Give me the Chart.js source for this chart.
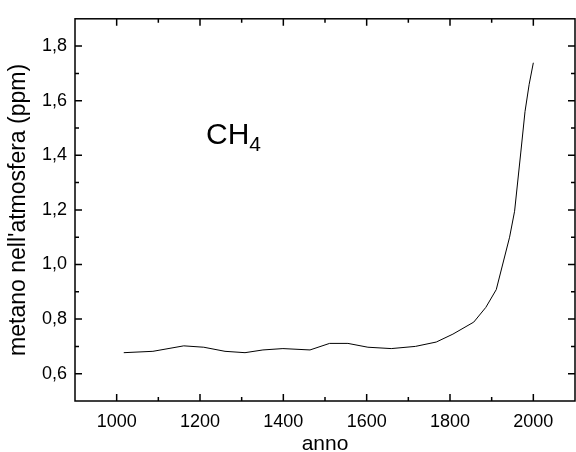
<!DOCTYPE html>
<html>
<head>
<meta charset="utf-8">
<script src="https://cdn.jsdelivr.net/npm/chart.js@4"></script>
<style>
  html, body { margin: 0; padding: 0; background: #fff; }
  #wrap { width: 576px; height: 452px; }
</style>
</head>
<body>
<div id="wrap"><canvas id="chart" width="576" height="452"></canvas></div>
<script>
// dati
const anni = [1017, 1087, 1161, 1209, 1260, 1308, 1351, 1399, 1464, 1511, 1555, 1603,
              1659, 1717, 1767, 1807, 1857, 1886, 1911, 1943, 1955, 1970, 1980, 1990, 2000];
const metano = [0.677, 0.682, 0.702, 0.697, 0.682, 0.677, 0.687, 0.692, 0.687, 0.711, 0.711, 0.697,
                0.692, 0.700, 0.716, 0.745, 0.789, 0.843, 0.908, 1.100, 1.195, 1.412, 1.560, 1.660, 1.739];
const xTicks = [1000, 1200, 1400, 1600, 1800, 2000];
const xMinor = [1100, 1300, 1500, 1700, 1900];
const yTicks = [0.6, 0.8, 1.0, 1.2, 1.4, 1.6, 1.8];
const yMinor = [0.7, 0.9, 1.1, 1.3, 1.5, 1.7];

const FONT = "'Liberation Sans', Arial, sans-serif";

// cornice e tacche interne su tutti i lati
const cornice = {
    id: 'cornice',
    afterDraw(chart) {
        const { ctx, chartArea: a, scales } = chart;
        const sx = scales.x, sy = scales.y;
        ctx.save();
        ctx.strokeStyle = '#000';
        ctx.lineWidth = 1.5;
        ctx.strokeRect(a.left, a.top, a.right - a.left, a.bottom - a.top);
        ctx.beginPath();
        const tx = (v, len) => {
            const p = sx.getPixelForValue(v);
            ctx.moveTo(p, a.bottom); ctx.lineTo(p, a.bottom - len);
            ctx.moveTo(p, a.top); ctx.lineTo(p, a.top + len);
        };
        const ty = (v, len) => {
            const p = sy.getPixelForValue(v);
            ctx.moveTo(a.left, p); ctx.lineTo(a.left + len, p);
            ctx.moveTo(a.right, p); ctx.lineTo(a.right - len, p);
        };
        xTicks.forEach(v => tx(v, 7));
        xMinor.forEach(v => tx(v, 4));
        yTicks.forEach(v => ty(v, 7));
        yMinor.forEach(v => ty(v, 4));
        ctx.stroke();

        // etichetta CH4
        ctx.fillStyle = '#000';
        ctx.textBaseline = 'alphabetic';
        ctx.textAlign = 'left';
        ctx.font = '30px ' + FONT;
        const x0 = 206, y0 = 144;
        ctx.fillText('CH', x0, y0);
        const w = ctx.measureText('CH').width;
        ctx.font = '21px ' + FONT;
        ctx.fillText('4', x0 + w, y0 + 7);
        ctx.restore();
    }
};

const virgola = v => Number(v).toFixed(1).replace('.', ',');

new Chart(document.getElementById('chart'), {
    type: 'line',
    data: {
        datasets: [{
            data: anni.map((a, i) => ({ x: a, y: metano[i] })),
            borderColor: '#000',
            borderWidth: 1,
            pointRadius: 0,
            tension: 0,
            fill: false
        }]
    },
    options: {
        responsive: false,
        animation: false,
        layout: { padding: { top: 15, right: 1, left: 0, bottom: 0 } },
        plugins: { legend: { display: false }, tooltip: { enabled: false } },
        scales: {
            x: {
                type: 'linear',
                min: 900,
                max: 2100,
                grid: { display: false, drawTicks: false },
                border: { display: false },
                afterBuildTicks: s => { s.ticks = xTicks.map(v => ({ value: v })); },
                afterFit: s => { s.height = 51; },
                ticks: {
                    color: '#000',
                    padding: 10,
                    maxRotation: 0,
                    font: { family: FONT, size: 18 },
                    callback: v => String(v)
                },
                title: {
                    display: true,
                    text: 'anno',
                    color: '#000',
                    font: { family: FONT, size: 21 },
                    padding: { top: 0, bottom: -5 }
                }
            },
            y: {
                type: 'linear',
                min: 0.5,
                max: 1.9,
                grid: { display: false, drawTicks: false },
                border: { display: false },
                afterBuildTicks: s => { s.ticks = yTicks.map(v => ({ value: v })); },
                afterFit: s => { s.width = 75; },
                ticks: {
                    color: '#000',
                    padding: 8,
                    font: { family: FONT, size: 18 },
                    callback: v => virgola(v)
                },
                title: {
                    display: true,
                    text: "metano nell'atmosfera (ppm)",
                    color: '#000',
                    font: { family: FONT, size: 23 },
                    padding: { top: 5, bottom: 0 }
                }
            }
        }
    },
    plugins: [cornice]
});
</script>
</body>
</html>
